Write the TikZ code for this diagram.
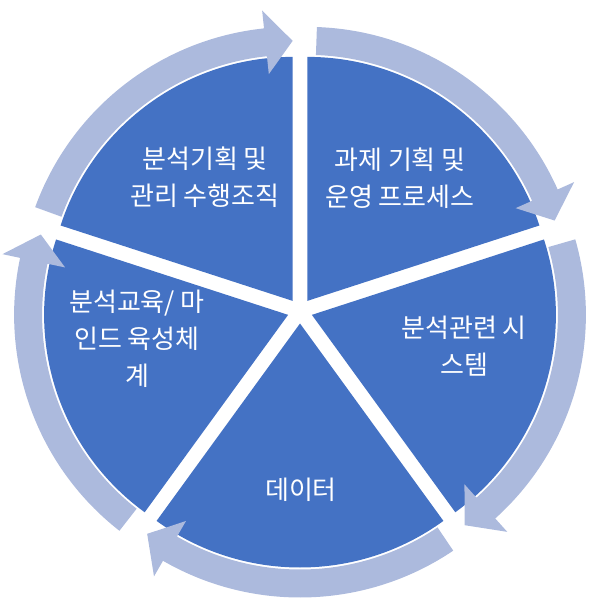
\documentclass[tikz,border=0pt]{standalone}
\usepackage{fontspec}
\usepackage{tikz}
\usepackage{xcolor}
\newfontfamily\kr{Noto Sans CJK KR}
\definecolor{segblue}{RGB}{68,114,196}
\definecolor{ringblue}{RGB}{172,186,221}

\begin{document}
\begin{tikzpicture}[
        wedge/.style = {fill=segblue},
        ringarrow/.style = {fill=ringblue},
        seglabel/.style = {text=white, align=center, inner sep=0pt, font=\kr\fontsize{26}{37}\selectfont}
        ]
        \useasboundingbox (-300pt,-301pt) rectangle (298pt,311pt);
        \fill[wedge, shift={(126:12.5pt)}] (0,0) -- (90:244pt) arc[start angle=90, end angle=162, radius=244pt] -- cycle;
        \fill[wedge, shift={(54:12.5pt)}] (0,0) -- (18:244pt) arc[start angle=18, end angle=90, radius=244pt] -- cycle;
        \fill[wedge, shift={(-18:12.5pt)}] (0,0) -- (-54:244pt) arc[start angle=-54, end angle=18, radius=244pt] -- cycle;
        \fill[wedge, shift={(-90:12.5pt)}] (0,0) -- (-126:244pt) arc[start angle=-126, end angle=-54, radius=244pt] -- cycle;
        \fill[wedge, shift={(198:12.5pt)}] (0,0) -- (162:244pt) arc[start angle=162, end angle=234, radius=244pt] -- cycle;
        \fill[ringarrow, shift={(126:12.5pt)}] (160:274pt) arc[start angle=160, end angle=96, radius=274pt] -- (96:292pt) -- (90:260pt) -- (96:228pt) -- (96:246pt) arc[start angle=96, end angle=160, radius=246pt] -- cycle;
        \fill[ringarrow, shift={(54:12.5pt)}] (88:274pt) arc[start angle=88, end angle=24, radius=274pt] -- (24:292pt) -- (18:260pt) -- (24:228pt) -- (24:246pt) arc[start angle=24, end angle=88, radius=246pt] -- cycle;
        \fill[ringarrow, shift={(-18:12.5pt)}] (16:274pt) arc[start angle=16, end angle=-48, radius=274pt] -- (-48:292pt) -- (-54:260pt) -- (-48:228pt) -- (-48:246pt) arc[start angle=-48, end angle=16, radius=246pt] -- cycle;
        \fill[ringarrow, shift={(-90:12.5pt)}] (-56:274pt) arc[start angle=-56, end angle=-120, radius=274pt] -- (-120:292pt) -- (-126:260pt) -- (-120:228pt) -- (-120:246pt) arc[start angle=-120, end angle=-56, radius=246pt] -- cycle;
        \fill[ringarrow, shift={(198:12.5pt)}] (232:274pt) arc[start angle=232, end angle=168, radius=274pt] -- (168:292pt) -- (162:260pt) -- (168:228pt) -- (168:246pt) arc[start angle=168, end angle=232, radius=246pt] -- cycle;
        \node[seglabel] (plan) at (-95pt,134pt) {분석기획 및\\관리 수행조직};
        \node[seglabel] (process) at (100pt,133pt) {과제 기획 및\\운영 프로세스};
        \node[seglabel] (system) at (164pt,-35pt) {분석관련 시\\스템};
        \node[seglabel] (edu) at (-163pt,-28pt) {분석교육/ 마\\인드 육성체\\계};
        \node[seglabel] (data) at (1pt,-179pt) {데이터};
\end{tikzpicture}
\end{document}
